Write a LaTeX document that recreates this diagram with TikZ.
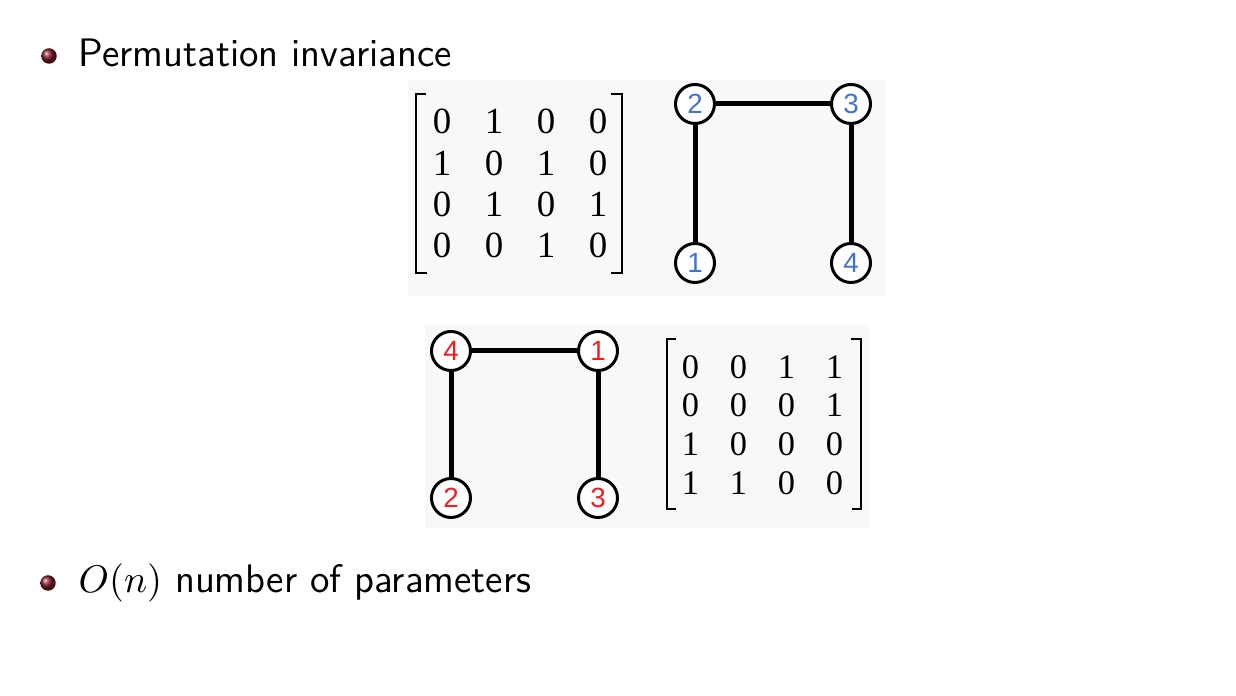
\documentclass[tikz,border=0pt]{standalone}
\usepackage{fontspec}
\usetikzlibrary{matrix,calc,positioning}
\newfontfamily\matfont{Liberation Serif}
\newfontfamily\labfont{Liberation Sans}
\definecolor{labblue}{RGB}{68,114,196}
\definecolor{labred}{RGB}{240,30,30}
\definecolor{ballred}{RGB}{125,20,35}
\definecolor{imgbg}{RGB}{248,248,248}

\begin{document}
\begin{tikzpicture}[x=0.1mm,y=-0.1mm,% pixel coordinates, y downwards
      every node/.style={inner sep=0pt},
      vertex/.style={circle,draw=black,line width=0.3mm,fill=white,minimum size=3.9mm,
        font=\labfont\fontsize{7.9}{8}\selectfont},
      bulletball/.style={circle,minimum size=1.55mm,shading=ball,ball color=ballred},
      itemtext/.style={anchor=base west,font=\sffamily\fontsize{11.3}{13}\selectfont},
      bracket/.style={draw,line width=0.2mm},
      every edge/.style={draw,line width=0.5mm}
    ]
    \useasboundingbox (0,0) rectangle (1236,696);
    % image backgrounds
    \fill[imgbg] (408,80) rectangle (885,296);
    \fill[imgbg] (425,325) rectangle (870,528);

    % bullets
    \node[itemtext](T1) at (78,67) {Permutation invariance};
    \node[bulletball](B1) at (49,56) {};
    \node[itemtext](T2) at (78,593) {$O(n)$ number of parameters};
    \node[bulletball](B2) at (48,583) {};

    % top: adjacency matrix and graph
    \matrix (A1) at (520,183.5) [matrix of nodes,inner sep=0pt,
      nodes={minimum width=5.2mm,minimum height=4.1mm,font=\matfont\fontsize{10.5}{11}\selectfont}] {
      0 & 1 & 0 & 0 \\
      1 & 0 & 1 & 0 \\
      0 & 1 & 0 & 1 \\
      0 & 0 & 1 & 0 \\
    };
    \draw[bracket] ($(A1.north west)+(11,-7)$) -| ($(A1.south west)+(1,7)$) -- ++(11,0);
    \draw[bracket] ($(A1.north east)+(-14,-7)$) -| ($(A1.south east)+(-3,7)$) -- ++(-11,0);

    \node[vertex,text=labblue](N2) at (695,104) {2};
    \node[vertex,text=labblue](N3) at (851,104) {3};
    \node[vertex,text=labblue](N1) at (695,263) {1};
    \node[vertex,text=labblue](N4) at (851,263) {4};
    \path
    (N2)edge [] node [] {} (N3)
    (N2)edge [] node [] {} (N1)
    (N3)edge [] node [] {} (N4)
    ;

    % bottom: relabelled graph and its matrix
    \node[vertex,text=labred](M4) at (451,351) {4};
    \node[vertex,text=labred](M1) at (598,351) {1};
    \node[vertex,text=labred](M2) at (451,498) {2};
    \node[vertex,text=labred](M3) at (598,498) {3};
    \path
    (M4)edge [] node [] {} (M1)
    (M4)edge [] node [] {} (M2)
    (M1)edge [] node [] {} (M3)
    ;

    \matrix (A2) at (762.5,425) [matrix of nodes,inner sep=0pt,
      nodes={minimum width=4.8mm,minimum height=3.87mm,font=\matfont\fontsize{9.8}{10}\selectfont}] {
      0 & 0 & 1 & 1 \\
      0 & 0 & 0 & 1 \\
      1 & 0 & 0 & 0 \\
      1 & 1 & 0 & 0 \\
    };
    \draw[bracket] ($(A2.north west)+(10,-8)$) -| ($(A2.south west)+(1,6)$) -- ++(9,0);
    \draw[bracket] ($(A2.north east)+(-8,-8)$) -| ($(A2.south east)+(1.5,6)$) -- ++(-9,0);
  \end{tikzpicture}
\end{document}
